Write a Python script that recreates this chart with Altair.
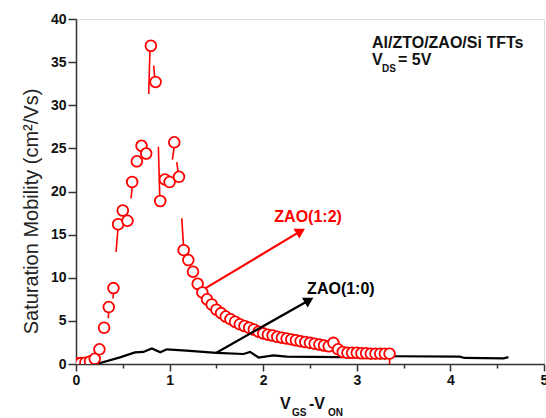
import altair as alt
import pandas as pd

# ZAO(1:2) red hollow circles
red_x = [0.00, 0.05, 0.10, 0.15, 0.20, 0.25, 0.30, 0.35, 0.40, 0.45,
         0.50, 0.55, 0.60, 0.65, 0.70, 0.75, 0.80, 0.85, 0.90, 0.95,
         1.00, 1.05, 1.10, 1.15, 1.20, 1.25, 1.30, 1.35, 1.40, 1.45,
         1.50, 1.55, 1.60, 1.65, 1.70, 1.75, 1.80, 1.85, 1.90, 1.95,
         2.00, 2.05, 2.10, 2.15, 2.20, 2.25, 2.30, 2.35, 2.40, 2.45,
         2.50, 2.55, 2.60, 2.65, 2.70, 2.75, 2.80, 2.85, 2.90, 2.95,
         3.00, 3.05, 3.10, 3.15, 3.20, 3.25, 3.30, 3.35]
red_y = [0.1, 0.1, 0.15, 0.3, 0.6, 1.7, 4.2, 6.6, 8.8, 16.2,
         17.8, 16.6, 21.1, 23.5, 25.3, 24.4, 36.9, 32.7, 18.9, 21.4,
         21.1, 25.7, 21.7, 13.2, 12.05, 10.7, 9.3, 8.3, 7.5, 6.9,
         6.3, 5.9, 5.5, 5.2, 4.9, 4.6, 4.4, 4.2, 4.0, 3.75,
         3.55, 3.4, 3.3, 3.15, 3.05, 2.95, 2.85, 2.75, 2.65, 2.55,
         2.45, 2.35, 2.25, 2.15, 2.05, 2.45, 1.7, 1.4, 1.3, 1.3,
         1.3, 1.25, 1.25, 1.2, 1.2, 1.2, 1.2, 1.2]

# red connecting-line fragments visible between symbols
seg_x1 = [0.35, 0.40, 0.45, 0.60, 0.79, 0.83, 0.88, 1.05, 1.077, 1.13, 3.35]
seg_y1 = [6.1, 8.3, 15.9, 20.5, 36.4, 34.6, 25.2, 25.2, 23.4, 16.9, 1.2]
seg_x2 = [0.345, 0.395, 0.428, 0.588, 0.777, 0.84, 0.895, 1.03, 1.09, 1.148, 3.35]
seg_y2 = [5.3, 7.6, 13.0, 19.2, 31.3, 33.3, 19.4, 23.7, 22.3, 13.8, 0.0]

# ZAO(1:0) black line
blk_x = [0.22, 0.47, 0.63, 0.72, 0.81, 0.90, 0.97, 1.18, 1.50, 1.79,
         1.86, 1.95, 2.11, 2.25, 2.80, 3.40, 4.10, 4.15, 4.57, 4.62]
blk_y = [0.0, 0.77, 1.35, 1.4, 1.8, 1.35, 1.7, 1.55, 1.3, 1.16,
         1.4, 0.75, 1.0, 0.85, 0.8, 0.9, 0.85, 0.7, 0.65, 0.8]

# annotation arrows
arr_x1 = [1.38, 1.50]
arr_y1 = [8.77, 1.31]
arr_x2 = [2.40, 2.49]
arr_y2 = [15.4, 7.4]
arr_col = ["#ff0000", "#000000"]
arr_angle = [59, 60]
lab_text = ["ZAO(1:2)", "ZAO(1:0)"]
lab_x = [2.48, 2.83]
lab_y = [17.0, 8.65]

x_ticks = [0, 0.5, 1, 1.5, 2, 2.5, 3, 3.5, 4, 4.5, 5]
y_ticks = [0, 2.5, 5, 7.5, 10, 12.5, 15, 17.5, 20, 22.5, 25, 27.5, 30,
           32.5, 35, 37.5, 40]

FONT = "Liberation Sans"
W, H = 468, 345

red_df = pd.DataFrame({"x": red_x, "y": red_y})
seg_df = pd.DataFrame({"x": seg_x1, "y": seg_y1, "x2": seg_x2, "y2": seg_y2})
blk_df = pd.DataFrame({"x": blk_x, "y": blk_y})
arr_df = pd.DataFrame({"x": arr_x1, "y": arr_y1, "x2": arr_x2, "y2": arr_y2,
                       "c": arr_col, "a": arr_angle})
lab_df = pd.DataFrame({"t": lab_text, "x": lab_x, "y": lab_y, "c": arr_col})

xs = alt.Scale(domain=[0, 5], nice=False, zero=False)
ys = alt.Scale(domain=[0, 40], nice=False, zero=False)

common_axis = dict(
    domainColor="#333333", domainWidth=1.5, tickColor="#333333", tickWidth=1.5,
    labelFont=FONT, labelFontWeight="bold", labelFontSize=14, labelColor="#111111",
    grid=False, labelOverlap=False, labelFlush=False,
)

x_axis = alt.Axis(
    values=x_ticks,
    labelExpr="datum.value % 1 === 0 ? format(datum.value, 'd') : ''",
    tickSize={"condition": {"test": "datum.value % 1 === 0", "value": 7}, "value": 4},
    labelPadding=2, title=None, **common_axis,
)
y_axis = alt.Axis(
    values=y_ticks,
    labelExpr="datum.value % 5 === 0 ? format(datum.value, 'd') : ''",
    tickSize={"condition": {"test": "datum.value % 5 === 0", "value": 8}, "value": 4},
    labelPadding=2,
    title="Saturation Mobility (cm²/Vs)", titleFont=FONT, titleFontSize=20,
    titleFontWeight="normal", titleColor="#222222", titleAngle=-90,
    titleAlign="center", titleBaseline="alphabetic", titleX=-39, titleY=192,
    **common_axis,
)

black_line = alt.Chart(blk_df).mark_line(color="#000000", strokeWidth=2.2, clip=True).encode(
    x=alt.X("x:Q", scale=xs, axis=x_axis),
    y=alt.Y("y:Q", scale=ys, axis=y_axis),
)

segs = alt.Chart(seg_df).mark_rule(color="#ff0000", strokeWidth=1.6, clip=True).encode(
    x="x:Q", y="y:Q", x2="x2:Q", y2="y2:Q",
)

circles = alt.Chart(red_df).mark_point(
    shape="circle", filled=True, fill="#ffffff", stroke="#ff0000",
    strokeWidth=1.8, size=115, opacity=1, fillOpacity=1, clip=True,
).encode(x="x:Q", y="y:Q")

arrow_lines = alt.Chart(arr_df).mark_rule(strokeWidth=2.2).encode(
    x="x:Q", y="y:Q", x2="x2:Q", y2="y2:Q",
    color=alt.Color("c:N", scale=None),
)
arrow_heads = alt.Chart(arr_df).mark_point(
    shape="triangle-up", filled=True, size=130, opacity=1,
).encode(
    x="x2:Q", y="y2:Q",
    color=alt.Color("c:N", scale=None),
    angle=alt.Angle("a:Q", scale=None),
)
labels = alt.Chart(lab_df).mark_text(
    font=FONT, fontSize=16, fontWeight="bold", align="center", baseline="middle",
).encode(
    x="x:Q", y="y:Q", text="t:N", color=alt.Color("c:N", scale=None),
)

def txt(s, x, y, size, align="left"):
    return alt.Chart(pd.DataFrame({"t": [s]})).mark_text(
        font=FONT, fontSize=size, fontWeight="bold", align=align,
        baseline="alphabetic", color="#111111",
    ).encode(x=alt.value(x), y=alt.value(y), text="t:N")

deco = [
    txt("Al/ZTO/ZAO/Si TFTs", 296, 29, 16),
    txt("V", 296, 46, 16),
    txt("DS", 306, 53, 10),
    txt("= 5V", 322, 46, 16),
    txt("V", 204, 390, 16),
    txt("GS", 216, 397, 10),
    txt("-V", 233, 390, 16),
    txt("ON", 252, 397, 10),
]

chart = alt.layer(black_line, segs, circles, arrow_lines, arrow_heads, labels, *deco).properties(
    width=W, height=H,
    autosize=alt.AutoSizeParams(type="none"),
    padding={"left": 76, "top": 19, "right": 2, "bottom": 54},
).configure_view(stroke="#333333", strokeWidth=1.5).configure(background="white")

chart.save("out.html", embed_options={"renderer": "svg", "actions": False})
